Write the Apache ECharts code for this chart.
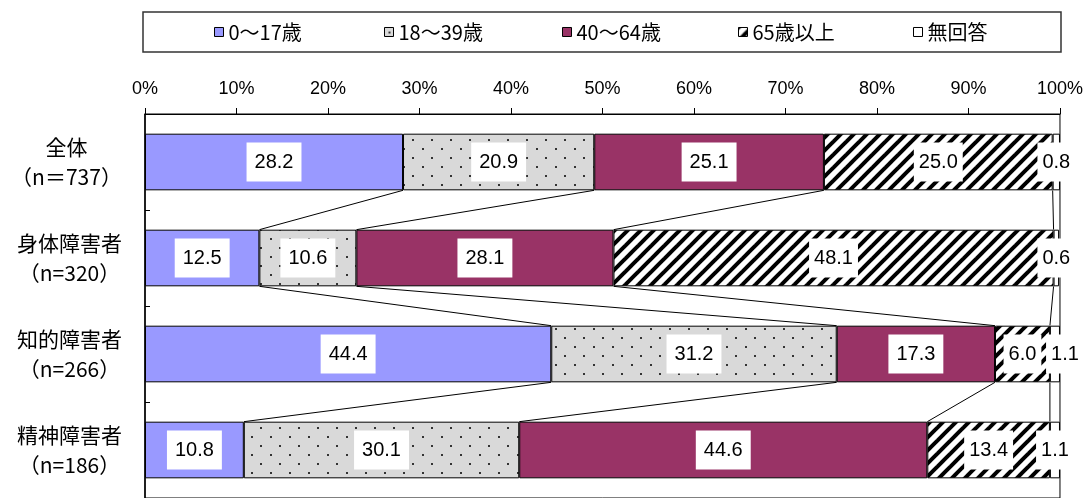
<!DOCTYPE html>
<html>
<head>
<meta charset="utf-8">
<script src="https://cdn.jsdelivr.net/npm/echarts@6/dist/echarts.min.js"></script>
<style>
  html, body { margin: 0; padding: 0; background: #fff; }
  #chart { width: 1086px; height: 498px; }
</style>
</head>
<body>
<div id="chart"></div>
<script>
// Age composition by group (%)
const groups = ['全体', '身体障害者', '知的障害者', '精神障害者'];
const groupN = ['（n＝737）', '（n=320）', '（n=266）', '（n=186）'];
const ageNames = ['0～17歳', '18～39歳', '40～64歳', '65歳以上', '無回答'];
const age0to17 = [28.2, 12.5, 44.4, 10.8];
const age18to39 = [20.9, 10.6, 31.2, 30.1];
const age40to64 = [25.1, 28.1, 17.3, 44.6];
const age65plus = [25.0, 48.1, 6.0, 13.4];
const noAnswer = [0.8, 0.6, 1.1, 1.1];
const xTicks = [0, 10, 20, 30, 40, 50, 60, 70, 80, 90, 100];

const seriesValues = [age0to17, age18to39, age40to64, age65plus, noAnswer];

// Fill patterns: dotted grey and wide upward diagonal hatch
function dotPattern() {
  const c = document.createElement('canvas');
  c.width = 19; c.height = 18;
  const g = c.getContext('2d');
  g.fillStyle = '#d9d9d9';
  g.fillRect(0, 0, 19, 18);
  g.fillStyle = '#333';
  g.fillRect(4, 4, 2, 2);
  g.fillRect(13, 13, 2, 2);
  return c;
}
function hatchPattern() {
  const s = 13;
  const c = document.createElement('canvas');
  c.width = s; c.height = s;
  const g = c.getContext('2d');
  g.fillStyle = '#fff';
  g.fillRect(0, 0, s, s);
  g.strokeStyle = '#000';
  g.lineWidth = 4;
  for (const k of [-s, 0, s]) {
    g.beginPath();
    g.moveTo(-3, s + k + 3);
    g.lineTo(s + k + 3, -3);
    g.stroke();
  }
  return c;
}

const fills = [
  '#9999ff',
  { image: dotPattern(), repeat: 'repeat' },
  '#993366',
  { image: hatchPattern(), repeat: 'repeat' },
  '#ffffff'
];

// Category label: name over sample size, each line centred in a right-aligned block
const labelFont = 'Noto Sans CJK JP';
const labelSize = 21;
const measureCtx = document.createElement('canvas').getContext('2d');
measureCtx.font = labelSize + 'px "' + labelFont + '"';
const rich = {};
groups.forEach((g, i) => {
  const w = Math.ceil(Math.max(measureCtx.measureText(g).width, measureCtx.measureText(groupN[i]).width));
  rich['c' + i] = {
    width: w, align: 'center', fontSize: labelSize, lineHeight: 30,
    fontFamily: labelFont, color: '#000'
  };
});

// Cumulative boundaries between segments, used for the connecting series lines
const cum = groups.map((_, r) => {
  let acc = 0;
  return seriesValues.map(vals => (acc += vals[r]));
});
const connectorData = [];
for (let k = 0; k < seriesValues.length - 1; k++) {
  for (let r = 0; r < groups.length - 1; r++) {
    connectorData.push([cum[r][k], cum[r + 1][k], r]);
  }
}
const barRatio = 0.59;

const labelBase = {
  show: true,
  position: 'inside',
  formatter: p => p.value.toFixed(1),
  backgroundColor: '#fff',
  padding: [10, 8, 10, 8],
  color: '#000',
  fontSize: 20,
  lineHeight: 19,
  fontFamily: 'Liberation Sans'
};

const series = ageNames.map((name, i) => ({
  name: name,
  type: 'bar',
  stack: 'total',
  barWidth: (barRatio * 100) + '%',
  // the narrow last segment of 知的障害者 has its label nudged right so it clears the 6.0 label
  data: seriesValues[i].map((v, r) =>
    (i === ageNames.length - 1 && r === 2) ? { value: v, label: { offset: [10, 0] } } : v),
  itemStyle: { color: fills[i], borderColor: '#000', borderWidth: 1 },
  label: (i >= 3) ? Object.assign({}, labelBase, { padding: [10, 5, 10, 5] }) : labelBase,
  emphasis: { disabled: true },
  z: 2
}));

series.push({
  type: 'custom',
  silent: true,
  z: 3,
  encode: { x: [0, 1], y: 2 },
  data: connectorData,
  renderItem: (params, api) => {
    const row = api.value(2);
    const half = api.size([0, 1])[1] * barRatio / 2;
    const p1 = api.coord([api.value(0), row]);
    const p2 = api.coord([api.value(1), row + 1]);
    return {
      type: 'line',
      shape: { x1: p1[0], y1: p1[1] + half, x2: p2[0], y2: p2[1] - half },
      style: { stroke: '#000', lineWidth: 1 }
    };
  }
});

// One legend entry per box slot inside the framed legend strip
const legendLeft = [214, 384, 562, 738, 913];
const legends = ageNames.map((name, i) => ({
  data: [name],
  left: legendLeft[i],
  top: 22,
  padding: 0,
  itemWidth: 9,
  itemHeight: 9,
  icon: 'rect',
  selectedMode: false,
  itemStyle: { borderColor: '#000', borderWidth: 1 },
  textStyle: { fontSize: 20, fontFamily: labelFont, color: '#000' }
}));

const chart = echarts.init(document.getElementById('chart'), null, { renderer: 'canvas' });
chart.setOption({
  animation: false,
  backgroundColor: '#fff',
  graphic: [{
    type: 'rect',
    shape: { x: 143, y: 12, width: 918, height: 40 },
    style: { fill: 'none', stroke: '#333', lineWidth: 1.5 },
    silent: true
  }],
  legend: legends,
  grid: { left: 145, right: 24, top: 114, height: 388, show: true, borderColor: '#000', borderWidth: 1, backgroundColor: 'transparent' },
  xAxis: {
    type: 'value',
    position: 'top',
    min: xTicks[0],
    max: xTicks[xTicks.length - 1],
    interval: xTicks[1] - xTicks[0],
    axisLine: { show: true, lineStyle: { color: '#000', width: 1 } },
    axisTick: { show: true, length: 6, lineStyle: { color: '#000' } },
    splitLine: { show: false },
    axisLabel: {
      formatter: '{value}%', margin: 16, fontSize: 18,
      fontFamily: '"Liberation Sans Narrow", "Liberation Sans"', color: '#000'
    }
  },
  yAxis: {
    type: 'category',
    inverse: true,
    data: groups,
    axisLine: { lineStyle: { color: '#000', width: 1.5 } },
    axisTick: { show: true, inside: true, length: 5, lineStyle: { color: '#000' } },
    axisLabel: {
      align: 'right',
      margin: 23,
      formatter: (value, index) => '{c' + index + '|' + value + '}\n{c' + index + '|' + groupN[index] + '}',
      rich: rich
    }
  },
  series: series
});
</script>
</body>
</html>
